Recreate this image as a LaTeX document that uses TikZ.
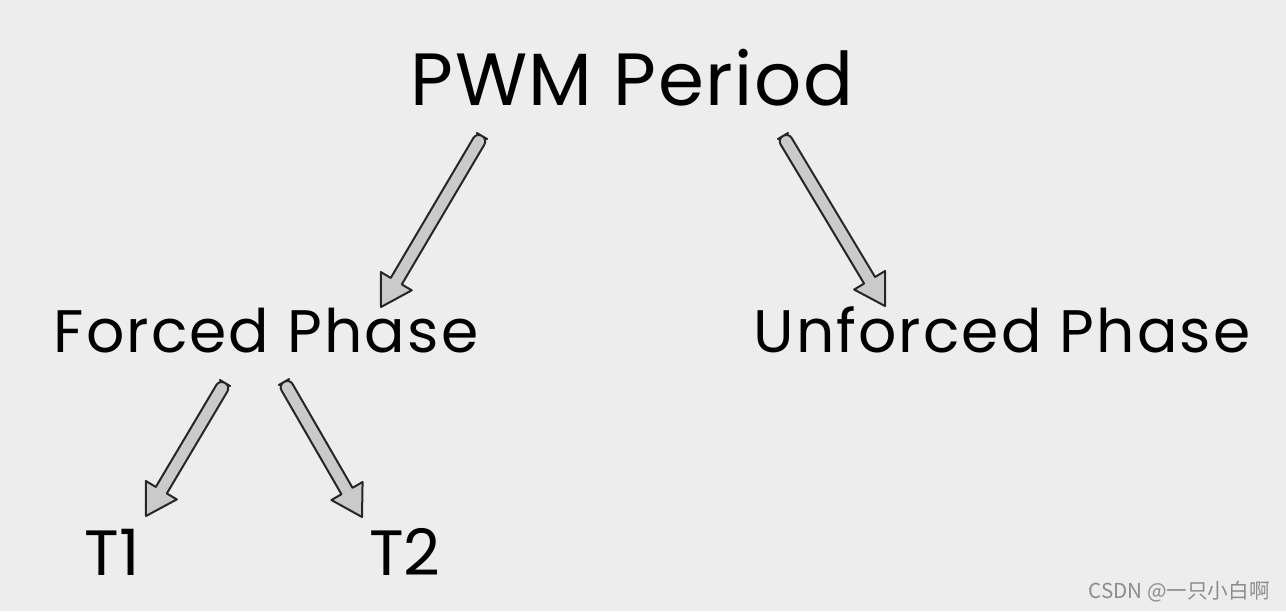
\documentclass[tikz,border=0pt]{standalone}
\usepackage{fontspec}
\setmainfont{Poppins}
\newfontfamily\cjkfont{Noto Sans CJK SC}
\usetikzlibrary{calc}

\definecolor{paper}{HTML}{EDEDED}
\definecolor{arrowgray}{HTML}{CACACA}
\definecolor{markgray}{HTML}{8C8C8C}

\tikzset{
  title/.style={anchor=base, inner sep=0pt, font=\fontsize{37}{44}\selectfont\addfontfeatures{LetterSpace=2}},
  phase/.style={anchor=base, inner sep=0pt, font=\fontsize{30}{36}\selectfont\addfontfeatures{LetterSpace=3.5}},
  leaf/.style={anchor=base, inner sep=0pt, font=\fontsize{32}{38}\selectfont},
  arrowbody/.style={fill=arrowgray, draw=black!85, line width=1pt, line join=round}
}

% block arrow from tail #1 to tip #2
\newcommand{\blockarrow}[2]{%
  \path ($(#2)!15pt!(#1)$) coordinate (neck);
  \filldraw[arrowbody] (#1) [rounded corners=3pt] -- ($(#1)!3.2pt!90:(#2)$)
    [sharp corners] -- ($(neck)!3.2pt!-90:(#1)$) -- ($(neck)!9pt!-90:(#1)$)
    -- (#2) -- ($(neck)!9pt!90:(#1)$) -- ($(neck)!3.2pt!90:(#1)$)
    [rounded corners=3pt] -- ($(#1)!3.2pt!-90:(#2)$) -- cycle;
}

\begin{document}
\begin{tikzpicture}[x=0.5pt, y=-0.5pt]
  \fill[paper] (0,0) rectangle (1286,611);
  \useasboundingbox (0,0) rectangle (1286,611);

  % labels
  \node[title] (period) at (632,105) {PWM Period};
  \node[phase] (forced) at (266,352) {Forced Phase};
  \node[phase] (unforced) at (1002,352) {Unforced Phase};
  \node[leaf] (t1) at (112,575) {T1};
  \node[leaf] (t2) at (405,575) {T2};

  % arrow ends
  \coordinate (p1) at (482,136);
  \coordinate (f1) at (381,307);
  \coordinate (p2) at (783,136);
  \coordinate (u1) at (885,306);
  \coordinate (f2) at (225,383);
  \coordinate (t1top) at (146,516);
  \coordinate (f3) at (284,382);
  \coordinate (t2top) at (362,517);

  \blockarrow{p1}{f1}
  \blockarrow{p2}{u1}
  \blockarrow{f2}{t1top}
  \blockarrow{f3}{t2top}

  \node[anchor=base east, inner sep=0pt, text=markgray, font=\cjkfont\fontsize{10.3}{12}\selectfont] (mark) at (1270,598) {CSDN @一只小白啊};
\end{tikzpicture}
\end{document}
